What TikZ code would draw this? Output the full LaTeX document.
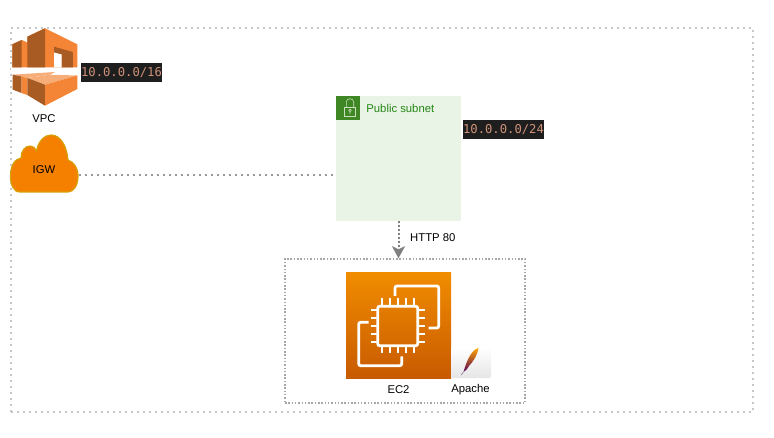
\documentclass[tikz,border=0pt]{standalone}
\usepackage{fontspec}
\setmainfont{Liberation Sans}
\setmonofont{DejaVu Sans Mono}
\usepackage{xcolor}
\usetikzlibrary{arrows.meta, positioning}

\definecolor{awsorange}{HTML}{F58536}
\definecolor{awsbrown}{HTML}{A85B22}
\definecolor{awslight}{HTML}{F7AD78}
\definecolor{subnetfill}{HTML}{E9F3E6}
\definecolor{subnetgreen}{HTML}{3F8624}
\definecolor{subnettext}{HTML}{248814}
\definecolor{locktint}{HTML}{C8E0BC}
\definecolor{codefill}{HTML}{1E1E1E}
\definecolor{codetext}{HTML}{CE9178}
\definecolor{ec2top}{HTML}{F08C00}
\definecolor{ec2bottom}{HTML}{C85A00}
\definecolor{igwfill}{HTML}{F58000}
\definecolor{igwline}{HTML}{D7A000}

\begin{document}
\begin{tikzpicture}[
            x=1pt, y=-1pt,
            label/.style={font=\fontsize{11.3}{13}\selectfont, inner sep=0pt},
            codebox/.style={rectangle, fill=codefill, text=codetext, minimum width=81pt, minimum height=19pt,
                            inner sep=0pt, font=\ttfamily\fontsize{12.2}{14}\selectfont},
            vpcframe/.style={rectangle, draw=black!22, line width=1.5pt, dash pattern=on 2pt off 4pt,
                             minimum width=742pt, minimum height=384pt, inner sep=0pt},
            appframe/.style={rectangle, draw=black!35, line width=1.5pt, dash pattern=on 1.5pt off 1.8pt,
                             minimum width=240pt, minimum height=144pt, inner sep=0pt},
            subnetbox/.style={rectangle, fill=subnetfill, minimum width=125pt, minimum height=125pt, inner sep=0pt},
            lockbox/.style={rectangle, fill=subnetgreen, minimum width=24pt, minimum height=24pt, inner sep=0pt},
            ec2box/.style={rectangle, top color=ec2top, bottom color=ec2bottom,
                           minimum width=105pt, minimum height=105pt, inner sep=0pt},
            chipline/.style={draw=white, line width=2.8pt, rounded corners=2pt},
            link/.style={draw=black!40, line width=1.5pt, dash pattern=on 2pt off 4pt},
            arrow/.style={-{Stealth[length=12pt, width=13pt, inset=3pt]}, draw=black!50, fill=black!50,
                          line width=2pt, dash pattern=on 2pt off 2pt}
        ]
        \useasboundingbox (0,0) rectangle (774,438);

        % ===== FRAMES =====
        \node[vpcframe] (vpc_frame) at (382,220) {};
        \node[appframe] (app_frame) at (405,331) {};
        \node[subnetbox] (subnet) at (398.5,158.5) {};

        % ===== VPC ICON =====
        \fill[white] (11,67) rectangle (78,72);
        % upper half
        \fill[awsorange] (12.3,44.3) -- (21.7,40) -- (27.3,42.5) -- (27.3,36.7) -- (45,28.3) -- (77.3,44.3) -- (77.3,67.3) -- (12.3,67.3) -- cycle;
        \fill[awsbrown] (12.3,44.3) -- (21.7,40) -- (21.7,67.3) -- (12.3,67.3) -- cycle;
        \fill[awsbrown] (27.3,36.7) -- (45,28.3) -- (45,67.3) -- (27.3,67.3) -- cycle;
        \fill[awsbrown] (54,46.7) -- (72.8,52) -- (72.8,67.3) -- (61.5,67.3) -- (61.5,54.5) -- (54,52.5) -- cycle;
        \fill[white] (54,52.5) -- (61.5,54.5) -- (61.5,67.3) -- (54,67.3) -- cycle;
        % lower half
        \fill[awslight] (12.5,74.7) -- (55,72) -- (50,74.7) -- (27.3,78) -- (21.5,76.5) -- cycle;
        \fill[awsbrown] (12.5,74.7) -- (21.5,76.5) -- (21.5,93) -- (12.5,89.5) -- cycle;
        \fill[awsorange] (21.5,76.5) -- (27.3,78) -- (27.3,95) -- (21.5,93) -- cycle;
        \fill[awslight] (27.3,78) -- (50,74.7) -- (77.3,75.5) -- (45,84.7) -- cycle;
        \fill[awsbrown] (27.3,78) -- (45,84.7) -- (45,105.7) -- (27.3,95) -- cycle;
        \fill[awsorange] (45,84.7) -- (77.3,75.5) -- (77.3,89) -- (45,105.7) -- cycle;
        \node[label] (vpc_label) at (44,118.5) {VPC};

        % ===== IGW =====
        \draw[draw=igwline, fill=igwfill, line width=1.2pt]
            (20,192) .. controls (13,192) and (10.5,184) .. (10.5,176)
            .. controls (10.5,167) and (14,159) .. (21,158)
            .. controls (21,151) and (25,146) .. (30,146)
            .. controls (33,146) and (35.5,148) .. (36.5,151)
            .. controls (38,142) and (44,135) .. (51,135)
            .. controls (61,135) and (67,147) .. (68,160)
            .. controls (74,162) and (78,168) .. (78,176)
            .. controls (78,185) and (74,192) .. (68,192) -- cycle;
        \node[label] (igw) at (44,170) {IGW};
        \coordinate (igw_out) at (78.5,175);

        % ===== SUBNET =====
        \node[lockbox] (lock) at (348,108) {};
        \draw[draw=locktint, line width=0.6pt] (344.7,107) rectangle (355.3,116.2);
        \draw[draw=locktint, line width=0.6pt] (346.3,107) -- (346.3,102) arc[start angle=180, end angle=0, x radius=3.7pt, y radius=3.3pt] -- (353.7,107);
        \draw[draw=locktint, line width=0.6pt] (350,110.3) circle (1.3pt) (350,111.6) -- (350,114);
        \node[label, anchor=west, text=subnettext, right=6pt of lock] (subnet_label) {Public subnet};
        \node[codebox] (vpc_cidr) at (121.5,72.5) {10.0.0.0/16};
        \node[codebox] (subnet_cidr) at (503.5,129.5) {10.0.0.0/24};

        % ===== EC2 =====
        \node[ec2box] (ec2) at (398.5,325.5) {};
        \draw[chipline] (377.7,306.3) rectangle (417.7,345.7);
        \foreach \p in {382,390,398,406,414} {
            \draw[chipline] (\p,298.5) -- (\p,306);
            \draw[chipline] (\p,346) -- (\p,353);
        }
        \foreach \p in {310,318,326,334,342} {
            \draw[chipline] (370.5,\p) -- (377.7,\p);
            \draw[chipline] (417.7,\p) -- (425,\p);
        }
        \draw[chipline] (395,296) -- (395,286) -- (438.7,286) -- (438.7,328) -- (428.7,328);
        \draw[chipline] (368.7,322.3) -- (358.7,322.3) -- (358.7,365.7) -- (401.7,365.7) -- (401.7,356.3);
        \node[label] (ec2_label) at (398.5,390) {EC2};

        % ===== APACHE =====
        \shade[top color=white, bottom color=black!10, rounded corners=2pt] (451,348) rectangle (491,378);
        \shade[top color=orange!70!yellow, middle color=red!80!black, bottom color=violet!70!black]
            (478.5,348) .. controls (474,349) and (470,354) .. (466,364) .. controls (465,367) and (464,370) .. (463.5,372)
            .. controls (466,370) and (468,369) .. (469,366) .. controls (473,362) and (478,354) .. (478.5,348) -- cycle;
        \draw[violet!40!black!60, line width=0.5pt] (463.5,372) -- (461,375);
        \node[label] (apache_label) at (470.5,390) {Apache};

        % ===== ARROWS =====
        \draw[link] (igw_out) -- (igw_out -| subnet.west);
        \draw[arrow] (subnet.south) -- (subnet.south |- app_frame.north);
        \node[label, anchor=west] (http_label) at (410,238) {HTTP 80};

        \end{tikzpicture}
\end{document}
